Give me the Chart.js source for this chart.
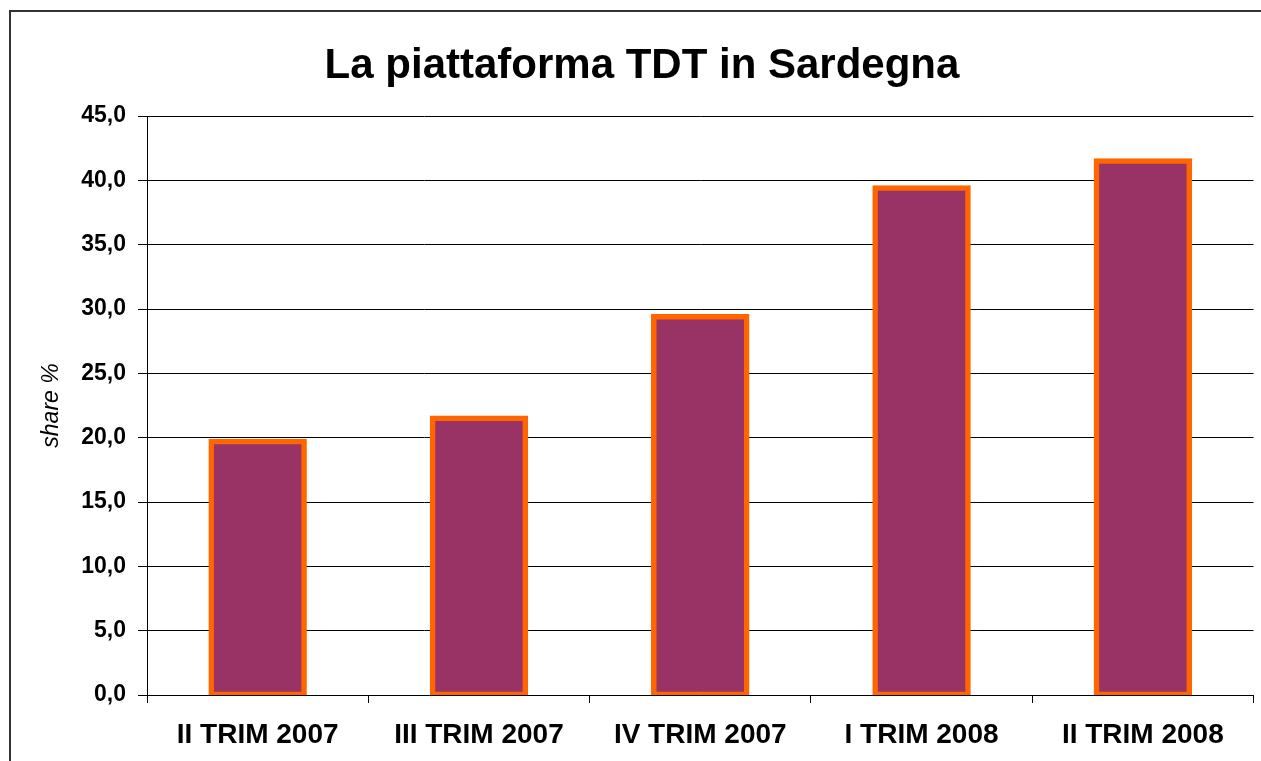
<!DOCTYPE html>
<html lang="it">
<head>
<meta charset="utf-8">
<title>La piattaforma TDT in Sardegna</title>
<script src="https://cdn.jsdelivr.net/npm/chart.js@4/dist/chart.umd.min.js"></script>
<style>
  html, body { margin: 0; padding: 0; background: #fff; overflow: hidden; }
  #cornice {
    position: absolute; left: 9px; top: 10px;
    width: 1300px; height: 800px;
    border: 2px solid #333;
  }
  #grafico { position: absolute; left: 0; top: 0; }
</style>
</head>
<body>
<div id="cornice">
  <canvas id="grafico" width="1262" height="749"></canvas>
</div>
<script>
// Dati del grafico
const trimestri = ['II TRIM 2007', 'III TRIM 2007', 'IV TRIM 2007', 'I TRIM 2008', 'II TRIM 2008'];
const share = [19.7, 21.5, 29.4, 39.4, 41.5];
const asseMin = 0;
const asseMax = 45;
const asseStep = 5;

const FONT = '"Liberation Sans", Arial, sans-serif';

const ctx = document.getElementById('grafico').getContext('2d');
const chart = new Chart(ctx, {
    type: 'bar',
    data: {
        labels: trimestri,
        datasets: [{
            label: 'share %',
            data: share,
            backgroundColor: '#993366',
            borderColor: '#FF6600',
            borderWidth: 5.5,
            inflateAmount: 2.75,   // bordo centrato sul valore, come in Excel
            borderSkipped: false,
            barPercentage: 0.42,
            categoryPercentage: 1
        }]
    },
    options: {
        responsive: false,
        animation: false,
        devicePixelRatio: 1,
        layout: { padding: { left: 19.5, right: 19.5, top: 0, bottom: 0 } },
        plugins: {
            legend: { display: false },
            tooltip: { enabled: false },
            title: {
                display: true,
                text: 'La piattaforma TDT in Sardegna',
                color: '#000',
                font: { family: FONT, size: 42, weight: 'bold', lineHeight: 1.2 },
                padding: { top: 29, bottom: 24.6 }
            }
        },
        scales: {
            x: {
                afterFit: (scale) => { scale.height = 66; },
                grid: {
                    offset: true,
                    drawOnChartArea: false,
                    drawTicks: true,
                    tickLength: 8,
                    color: '#000',
                    lineWidth: 1
                },
                border: { display: true, color: '#000', width: 1 },
                ticks: {
                    color: '#000',
                    padding: 15,
                    maxRotation: 0,
                    font: { family: FONT, size: 28, weight: 'bold', lineHeight: 1.2 }
                }
            },
            y: {
                min: asseMin,
                max: asseMax,
                afterFit: (scale) => { scale.width = 116.5; },
                grid: {
                    color: '#000',
                    lineWidth: 1,
                    drawTicks: true,
                    tickLength: 9
                },
                border: { display: true, color: '#000', width: 1 },
                ticks: {
                    stepSize: asseStep,
                    color: '#000',
                    padding: 12,
                    font: { family: FONT, size: 23, weight: 'bold' },
                    callback: (v) => v.toFixed(1).replace('.', ',')
                },
                title: {
                    display: true,
                    text: 'share %',
                    color: '#000',
                    padding: { top: 7.5, bottom: 0 },
                    font: { family: FONT, size: 23, style: 'italic', lineHeight: 1.2 }
                }
            }
        }
    }
});
</script>
</body>
</html>
